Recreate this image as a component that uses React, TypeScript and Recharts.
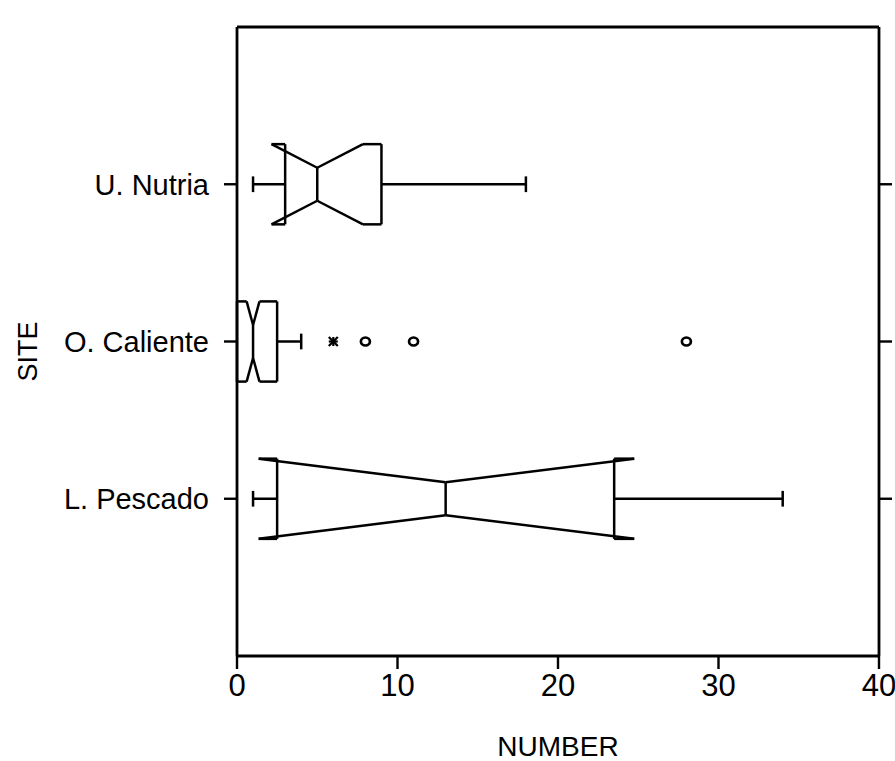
import React from 'react';
import { ComposedChart, XAxis, YAxis, ReferenceLine, Scatter } from 'recharts';

// Sites, listed top to bottom, and their positions on the numeric site axis
const sites = ['U. Nutria', 'O. Caliente', 'L. Pescado'];
const sitePositions = [3, 2, 1];

// Notched box statistics per site (NUMBER)
const lowerWhisker = [1, 0, 1];
const lowerHinge = [3, 0, 2.5];
const lowerNotch = [2.15, 0.6, 1.35];
const medians = [5, 1, 13];
const upperNotch = [7.85, 1.4, 24.75];
const upperHinge = [9, 2.5, 23.5];
const upperWhisker = [18, 4, 34];

// Outlying observations
const outsideSites = ['O. Caliente'];
const outsideValues = [6];
const farOutsideSites = ['O. Caliente', 'O. Caliente', 'O. Caliente'];
const farOutsideValues = [8, 11, 28];

const xTicks = [0, 10, 20, 30, 40];

const FONT = '"Liberation Sans", Arial, Helvetica, sans-serif';
const BOX_HALF = 0.255; // half box height in site-axis units
const WAIST_HALF = 0.105; // half height at the median notch
const CAP_HALF = 0.05; // whisker cap half height
const LINE_W = 2.5;

type Pt = { x: number; y: number };
type Seg = [Pt, Pt];

function boxSegments(i: number): Seg[] {
  const c = sitePositions[i];
  const top = c + BOX_HALF;
  const bot = c - BOX_HALF;
  const wTop = c + WAIST_HALF;
  const wBot = c - WAIST_HALF;
  const q1 = lowerHinge[i];
  const q3 = upperHinge[i];
  const nl = lowerNotch[i];
  const nh = upperNotch[i];
  const md = medians[i];
  const segs: Seg[] = [
    // outline, upper half
    [{ x: q1, y: top }, { x: nl, y: top }],
    [{ x: nl, y: top }, { x: md, y: wTop }],
    [{ x: md, y: wTop }, { x: nh, y: top }],
    [{ x: nh, y: top }, { x: q3, y: top }],
    // outline, lower half
    [{ x: q1, y: bot }, { x: nl, y: bot }],
    [{ x: nl, y: bot }, { x: md, y: wBot }],
    [{ x: md, y: wBot }, { x: nh, y: bot }],
    [{ x: nh, y: bot }, { x: q3, y: bot }],
    // hinges and median
    [{ x: q1, y: top }, { x: q1, y: bot }],
    [{ x: q3, y: top }, { x: q3, y: bot }],
    [{ x: md, y: wTop }, { x: md, y: wBot }],
  ];
  if (lowerWhisker[i] < q1) {
    segs.push([{ x: lowerWhisker[i], y: c }, { x: q1, y: c }]);
    segs.push([{ x: lowerWhisker[i], y: c + CAP_HALF }, { x: lowerWhisker[i], y: c - CAP_HALF }]);
  }
  if (upperWhisker[i] > q3) {
    segs.push([{ x: q3, y: c }, { x: upperWhisker[i], y: c }]);
    segs.push([{ x: upperWhisker[i], y: c + CAP_HALF }, { x: upperWhisker[i], y: c - CAP_HALF }]);
  }
  return segs;
}

const siteY = (name: string) => sitePositions[sites.indexOf(name)];
const outsideData = outsideValues.map((v, k) => ({ x: v, y: siteY(outsideSites[k]) }));
const farOutsideData = farOutsideValues.map((v, k) => ({ x: v, y: siteY(farOutsideSites[k]) }));

const siteLabel = (v: number) => {
  const k = sitePositions.indexOf(v);
  return k >= 0 ? sites[k] : '';
};

const StarMark = (props: any) => {
  const { cx, cy } = props;
  const r = 4.5;
  return (
    <g stroke="#000" strokeWidth={2.2}>
      <line x1={cx - r} y1={cy} x2={cx + r} y2={cy} />
      <line x1={cx - r} y1={cy - r} x2={cx + r} y2={cy + r} />
      <line x1={cx - r} y1={cy + r} x2={cx + r} y2={cy - r} />
      <line x1={cx} y1={cy - r} x2={cx} y2={cy + r} />
    </g>
  );
};

const CircleMark = (props: any) => {
  const { cx, cy } = props;
  return <ellipse cx={cx} cy={cy} rx={4.5} ry={4} fill="none" stroke="#000" strokeWidth={2.7} />;
};

const SiteTitle = (props: any) => {
  const vb = props.viewBox || { x: 0, y: 0, width: 0, height: 0 };
  const x = vb.x + 20;
  const y = vb.y + vb.height / 2 + 10;
  return (
    <text
      x={x}
      y={y}
      transform={`rotate(-90 ${x} ${y})`}
      textAnchor="middle"
      dominantBaseline="central"
      fontFamily={FONT}
      fontSize={27}
      fill="#000"
    >
      SITE
    </text>
  );
};

const NumberTitle = (props: any) => {
  const vb = props.viewBox || { x: 0, y: 0, width: 0, height: 0 };
  return (
    <text
      x={vb.x + vb.width / 2}
      y={vb.y + 90}
      textAnchor="middle"
      dominantBaseline="central"
      fontFamily={FONT}
      fontSize={28}
      fill="#000"
    >
      NUMBER
    </text>
  );
};

export default function App() {
  const axisStroke = { stroke: '#000', strokeWidth: 2.8 };
  const tickStroke = { stroke: '#000', strokeWidth: 2.4 };
  return (
    <div style={{ position: 'absolute', left: 8, top: 8, width: 887, height: 753, background: '#fff' }}>
      <ComposedChart
        width={887}
        height={753}
        margin={{ top: 0, right: 0, bottom: 0, left: 0 }}
        style={{ overflow: 'visible' }}
      >
        <XAxis
          xAxisId={0}
          dataKey="x"
          type="number"
          domain={[0, 40]}
          ticks={xTicks}
          allowDataOverflow
          orientation="bottom"
          height={105}
          tickSize={13}
          tickMargin={5}
          axisLine={axisStroke}
          tickLine={tickStroke}
          tick={{ fill: '#000', fontSize: 31, fontFamily: FONT }}
          label={<NumberTitle />}
        />
        <XAxis
          xAxisId="top"
          type="number"
          domain={[0, 40]}
          ticks={xTicks}
          allowDataOverflow
          orientation="top"
          height={19}
          tickSize={12}
          axisLine={axisStroke}
          tickLine={tickStroke}
          tickFormatter={() => ''}
        />
        <YAxis
          yAxisId={0}
          dataKey="y"
          type="number"
          domain={[0, 4]}
          ticks={sitePositions}
          allowDataOverflow
          orientation="left"
          width={229}
          tickSize={13}
          tickMargin={15}
          axisLine={axisStroke}
          tickLine={tickStroke}
          tickFormatter={siteLabel}
          tick={{ fill: '#000', fontSize: 29, fontFamily: FONT }}
          label={<SiteTitle />}
        />
        <YAxis
          yAxisId="right"
          type="number"
          domain={[0, 4]}
          ticks={sitePositions}
          allowDataOverflow
          orientation="right"
          width={16}
          tickSize={13}
          axisLine={axisStroke}
          tickLine={tickStroke}
          tickFormatter={() => ''}
        />
        {sites.map((s, i) =>
          boxSegments(i).map((seg, j) => (
            <ReferenceLine
              key={`${s}-${j}`}
              xAxisId={0}
              yAxisId={0}
              segment={seg}
              stroke="#000"
              strokeWidth={LINE_W}
              ifOverflow="visible"
            />
          ))
        )}
        <Scatter
          xAxisId={0}
          yAxisId={0}
          data={outsideData}
          shape={<StarMark />}
          isAnimationActive={false}
        />
        <Scatter
          xAxisId={0}
          yAxisId={0}
          data={farOutsideData}
          shape={<CircleMark />}
          isAnimationActive={false}
        />
      </ComposedChart>
    </div>
  );
}
